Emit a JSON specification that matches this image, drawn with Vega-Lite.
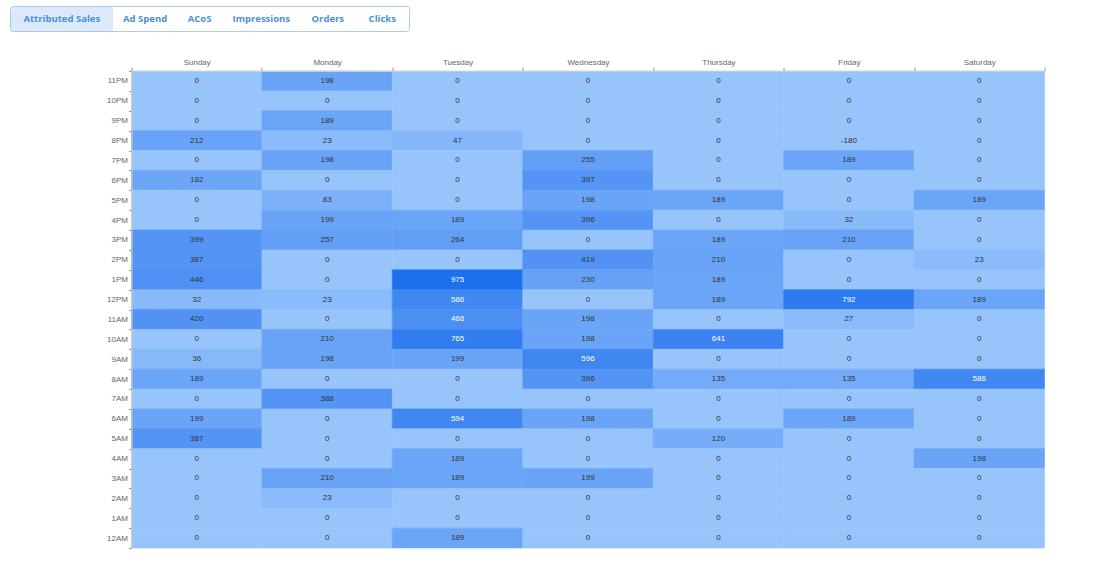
{
  "$schema": "https://vega.github.io/schema/vega-lite/v6.json",
  "padding": {"left": 9.5, "top": 5.5, "right": 0, "bottom": 0},
  "background": "white",
  "spacing": 25.5,
  "config": {"view": {"stroke": null}, "font": "Liberation Sans"},
  "datasets": {
    "tabs": [
      {"tab": "Attributed Sales", "active": true},
      {"tab": "Ad Spend", "active": false},
      {"tab": "ACoS", "active": false},
      {"tab": "Impressions", "active": false},
      {"tab": "Orders", "active": false},
      {"tab": "Clicks", "active": false}
    ],
    "sales": [
      {"day": "Sunday", "hour": "11PM", "sales": 0},
      {"day": "Sunday", "hour": "10PM", "sales": 0},
      {"day": "Sunday", "hour": "9PM", "sales": 0},
      {"day": "Sunday", "hour": "8PM", "sales": 212},
      {"day": "Sunday", "hour": "7PM", "sales": 0},
      {"day": "Sunday", "hour": "6PM", "sales": 182},
      {"day": "Sunday", "hour": "5PM", "sales": 0},
      {"day": "Sunday", "hour": "4PM", "sales": 0},
      {"day": "Sunday", "hour": "3PM", "sales": 399},
      {"day": "Sunday", "hour": "2PM", "sales": 387},
      {"day": "Sunday", "hour": "1PM", "sales": 446},
      {"day": "Sunday", "hour": "12PM", "sales": 32},
      {"day": "Sunday", "hour": "11AM", "sales": 420},
      {"day": "Sunday", "hour": "10AM", "sales": 0},
      {"day": "Sunday", "hour": "9AM", "sales": 36},
      {"day": "Sunday", "hour": "8AM", "sales": 189},
      {"day": "Sunday", "hour": "7AM", "sales": 0},
      {"day": "Sunday", "hour": "6AM", "sales": 199},
      {"day": "Sunday", "hour": "5AM", "sales": 387},
      {"day": "Sunday", "hour": "4AM", "sales": 0},
      {"day": "Sunday", "hour": "3AM", "sales": 0},
      {"day": "Sunday", "hour": "2AM", "sales": 0},
      {"day": "Sunday", "hour": "1AM", "sales": 0},
      {"day": "Sunday", "hour": "12AM", "sales": 0},
      {"day": "Monday", "hour": "11PM", "sales": 198},
      {"day": "Monday", "hour": "10PM", "sales": 0},
      {"day": "Monday", "hour": "9PM", "sales": 189},
      {"day": "Monday", "hour": "8PM", "sales": 23},
      {"day": "Monday", "hour": "7PM", "sales": 198},
      {"day": "Monday", "hour": "6PM", "sales": 0},
      {"day": "Monday", "hour": "5PM", "sales": 83},
      {"day": "Monday", "hour": "4PM", "sales": 199},
      {"day": "Monday", "hour": "3PM", "sales": 257},
      {"day": "Monday", "hour": "2PM", "sales": 0},
      {"day": "Monday", "hour": "1PM", "sales": 0},
      {"day": "Monday", "hour": "12PM", "sales": 23},
      {"day": "Monday", "hour": "11AM", "sales": 0},
      {"day": "Monday", "hour": "10AM", "sales": 210},
      {"day": "Monday", "hour": "9AM", "sales": 198},
      {"day": "Monday", "hour": "8AM", "sales": 0},
      {"day": "Monday", "hour": "7AM", "sales": 388},
      {"day": "Monday", "hour": "6AM", "sales": 0},
      {"day": "Monday", "hour": "5AM", "sales": 0},
      {"day": "Monday", "hour": "4AM", "sales": 0},
      {"day": "Monday", "hour": "3AM", "sales": 210},
      {"day": "Monday", "hour": "2AM", "sales": 23},
      {"day": "Monday", "hour": "1AM", "sales": 0},
      {"day": "Monday", "hour": "12AM", "sales": 0},
      {"day": "Tuesday", "hour": "11PM", "sales": 0},
      {"day": "Tuesday", "hour": "10PM", "sales": 0},
      {"day": "Tuesday", "hour": "9PM", "sales": 0},
      {"day": "Tuesday", "hour": "8PM", "sales": 47},
      {"day": "Tuesday", "hour": "7PM", "sales": 0},
      {"day": "Tuesday", "hour": "6PM", "sales": 0},
      {"day": "Tuesday", "hour": "5PM", "sales": 0},
      {"day": "Tuesday", "hour": "4PM", "sales": 189},
      {"day": "Tuesday", "hour": "3PM", "sales": 264},
      {"day": "Tuesday", "hour": "2PM", "sales": 0},
      {"day": "Tuesday", "hour": "1PM", "sales": 975},
      {"day": "Tuesday", "hour": "12PM", "sales": 586},
      {"day": "Tuesday", "hour": "11AM", "sales": 468},
      {"day": "Tuesday", "hour": "10AM", "sales": 765},
      {"day": "Tuesday", "hour": "9AM", "sales": 199},
      {"day": "Tuesday", "hour": "8AM", "sales": 0},
      {"day": "Tuesday", "hour": "7AM", "sales": 0},
      {"day": "Tuesday", "hour": "6AM", "sales": 594},
      {"day": "Tuesday", "hour": "5AM", "sales": 0},
      {"day": "Tuesday", "hour": "4AM", "sales": 189},
      {"day": "Tuesday", "hour": "3AM", "sales": 189},
      {"day": "Tuesday", "hour": "2AM", "sales": 0},
      {"day": "Tuesday", "hour": "1AM", "sales": 0},
      {"day": "Tuesday", "hour": "12AM", "sales": 189},
      {"day": "Wednesday", "hour": "11PM", "sales": 0},
      {"day": "Wednesday", "hour": "10PM", "sales": 0},
      {"day": "Wednesday", "hour": "9PM", "sales": 0},
      {"day": "Wednesday", "hour": "8PM", "sales": 0},
      {"day": "Wednesday", "hour": "7PM", "sales": 255},
      {"day": "Wednesday", "hour": "6PM", "sales": 397},
      {"day": "Wednesday", "hour": "5PM", "sales": 198},
      {"day": "Wednesday", "hour": "4PM", "sales": 396},
      {"day": "Wednesday", "hour": "3PM", "sales": 0},
      {"day": "Wednesday", "hour": "2PM", "sales": 419},
      {"day": "Wednesday", "hour": "1PM", "sales": 230},
      {"day": "Wednesday", "hour": "12PM", "sales": 0},
      {"day": "Wednesday", "hour": "11AM", "sales": 198},
      {"day": "Wednesday", "hour": "10AM", "sales": 198},
      {"day": "Wednesday", "hour": "9AM", "sales": 596},
      {"day": "Wednesday", "hour": "8AM", "sales": 396},
      {"day": "Wednesday", "hour": "7AM", "sales": 0},
      {"day": "Wednesday", "hour": "6AM", "sales": 198},
      {"day": "Wednesday", "hour": "5AM", "sales": 0},
      {"day": "Wednesday", "hour": "4AM", "sales": 0},
      {"day": "Wednesday", "hour": "3AM", "sales": 199},
      {"day": "Wednesday", "hour": "2AM", "sales": 0},
      {"day": "Wednesday", "hour": "1AM", "sales": 0},
      {"day": "Wednesday", "hour": "12AM", "sales": 0},
      {"day": "Thursday", "hour": "11PM", "sales": 0},
      {"day": "Thursday", "hour": "10PM", "sales": 0},
      {"day": "Thursday", "hour": "9PM", "sales": 0},
      {"day": "Thursday", "hour": "8PM", "sales": 0},
      {"day": "Thursday", "hour": "7PM", "sales": 0},
      {"day": "Thursday", "hour": "6PM", "sales": 0},
      {"day": "Thursday", "hour": "5PM", "sales": 189},
      {"day": "Thursday", "hour": "4PM", "sales": 0},
      {"day": "Thursday", "hour": "3PM", "sales": 189},
      {"day": "Thursday", "hour": "2PM", "sales": 210},
      {"day": "Thursday", "hour": "1PM", "sales": 189},
      {"day": "Thursday", "hour": "12PM", "sales": 189},
      {"day": "Thursday", "hour": "11AM", "sales": 0},
      {"day": "Thursday", "hour": "10AM", "sales": 641},
      {"day": "Thursday", "hour": "9AM", "sales": 0},
      {"day": "Thursday", "hour": "8AM", "sales": 135},
      {"day": "Thursday", "hour": "7AM", "sales": 0},
      {"day": "Thursday", "hour": "6AM", "sales": 0},
      {"day": "Thursday", "hour": "5AM", "sales": 120},
      {"day": "Thursday", "hour": "4AM", "sales": 0},
      {"day": "Thursday", "hour": "3AM", "sales": 0},
      {"day": "Thursday", "hour": "2AM", "sales": 0},
      {"day": "Thursday", "hour": "1AM", "sales": 0},
      {"day": "Thursday", "hour": "12AM", "sales": 0},
      {"day": "Friday", "hour": "11PM", "sales": 0},
      {"day": "Friday", "hour": "10PM", "sales": 0},
      {"day": "Friday", "hour": "9PM", "sales": 0},
      {"day": "Friday", "hour": "8PM", "sales": -180},
      {"day": "Friday", "hour": "7PM", "sales": 189},
      {"day": "Friday", "hour": "6PM", "sales": 0},
      {"day": "Friday", "hour": "5PM", "sales": 0},
      {"day": "Friday", "hour": "4PM", "sales": 32},
      {"day": "Friday", "hour": "3PM", "sales": 210},
      {"day": "Friday", "hour": "2PM", "sales": 0},
      {"day": "Friday", "hour": "1PM", "sales": 0},
      {"day": "Friday", "hour": "12PM", "sales": 792},
      {"day": "Friday", "hour": "11AM", "sales": 27},
      {"day": "Friday", "hour": "10AM", "sales": 0},
      {"day": "Friday", "hour": "9AM", "sales": 0},
      {"day": "Friday", "hour": "8AM", "sales": 135},
      {"day": "Friday", "hour": "7AM", "sales": 0},
      {"day": "Friday", "hour": "6AM", "sales": 189},
      {"day": "Friday", "hour": "5AM", "sales": 0},
      {"day": "Friday", "hour": "4AM", "sales": 0},
      {"day": "Friday", "hour": "3AM", "sales": 0},
      {"day": "Friday", "hour": "2AM", "sales": 0},
      {"day": "Friday", "hour": "1AM", "sales": 0},
      {"day": "Friday", "hour": "12AM", "sales": 0},
      {"day": "Saturday", "hour": "11PM", "sales": 0},
      {"day": "Saturday", "hour": "10PM", "sales": 0},
      {"day": "Saturday", "hour": "9PM", "sales": 0},
      {"day": "Saturday", "hour": "8PM", "sales": 0},
      {"day": "Saturday", "hour": "7PM", "sales": 0},
      {"day": "Saturday", "hour": "6PM", "sales": 0},
      {"day": "Saturday", "hour": "5PM", "sales": 189},
      {"day": "Saturday", "hour": "4PM", "sales": 0},
      {"day": "Saturday", "hour": "3PM", "sales": 0},
      {"day": "Saturday", "hour": "2PM", "sales": 23},
      {"day": "Saturday", "hour": "1PM", "sales": 0},
      {"day": "Saturday", "hour": "12PM", "sales": 189},
      {"day": "Saturday", "hour": "11AM", "sales": 0},
      {"day": "Saturday", "hour": "10AM", "sales": 0},
      {"day": "Saturday", "hour": "9AM", "sales": 0},
      {"day": "Saturday", "hour": "8AM", "sales": 586},
      {"day": "Saturday", "hour": "7AM", "sales": 0},
      {"day": "Saturday", "hour": "6AM", "sales": 0},
      {"day": "Saturday", "hour": "5AM", "sales": 0},
      {"day": "Saturday", "hour": "4AM", "sales": 198},
      {"day": "Saturday", "hour": "3AM", "sales": 0},
      {"day": "Saturday", "hour": "2AM", "sales": 0},
      {"day": "Saturday", "hour": "1AM", "sales": 0},
      {"day": "Saturday", "hour": "12AM", "sales": 0}
    ]
  },
  "vconcat": [
    {
      "width": 278,
      "height": 25,
      "data": {"name": "tabs"},
      "transform": [
        {"calculate": "length(datum.tab) * 4.5 + 24", "as": "w"},
        {"window": [{"op": "sum", "field": "w", "as": "tabEnd"}], "frame": [null, 0]},
        {"calculate": "datum.tabEnd - datum.w", "as": "tabStart"},
        {"calculate": "datum.tabEnd - datum.w / 2", "as": "tabMid"}
      ],
      "layer": [
        {
          "mark": {"type": "rect", "cornerRadius": 2},
          "encoding": {
            "x": {"field": "tabStart", "type": "quantitative", "axis": null,
                  "scale": {"zero": true, "nice": false, "range": [-121, 278]}},
            "x2": {"field": "tabEnd"},
            "fill": {"condition": {"test": "datum.active", "value": "#dbe9f8"}, "value": "#ffffff"}
          }
        },
        {
          "mark": {"type": "text", "font": "Open Sans", "fontWeight": "bold", "fontSize": 9.5, "color": "#4a90d9"},
          "encoding": {
            "x": {"field": "tabMid", "type": "quantitative", "axis": null},
            "text": {"field": "tab"}
          }
        },
        {
          "transform": [
            {"aggregate": [{"op": "min", "field": "tabStart", "as": "boxStart"},
                           {"op": "max", "field": "tabEnd", "as": "boxEnd"}]}
          ],
          "mark": {"type": "rect", "fill": null, "fillOpacity": 0, "stroke": "#a9cce9", "strokeWidth": 1, "cornerRadius": 3},
          "encoding": {
            "x": {"field": "boxStart", "type": "quantitative", "axis": null},
            "x2": {"field": "boxEnd"}
          }
        }
      ]
    },
    {
      "width": 913,
      "height": 477,
      "data": {"name": "sales"},
      "encoding": {
        "x": {
          "field": "day", "type": "nominal",
          "sort": ["Sunday", "Monday", "Tuesday", "Wednesday", "Thursday", "Friday", "Saturday"],
          "scale": {"paddingInner": 0, "paddingOuter": 0},
          "axis": {"orient": "top", "title": null, "labelAngle": 0, "tickBand": "extent", "grid": false,
                   "labelFontSize": 8, "labelColor": "#666666", "labelPadding": 1,
                   "tickSize": 4, "tickColor": "#999999", "domainColor": "#cccccc"}
        },
        "y": {
          "field": "hour", "type": "nominal",
          "sort": ["11PM", "10PM", "9PM", "8PM", "7PM", "6PM", "5PM", "4PM", "3PM", "2PM", "1PM", "12PM",
                   "11AM", "10AM", "9AM", "8AM", "7AM", "6AM", "5AM", "4AM", "3AM", "2AM", "1AM", "12AM"],
          "scale": {"paddingInner": 0, "paddingOuter": 0},
          "axis": {"title": null, "tickBand": "extent", "grid": false, "labelFontSize": 8, "labelColor": "#666666",
                   "labelPadding": 1, "tickSize": 3, "tickColor": "#999999", "domainColor": "#cccccc",
                   "minExtent": 121}
        }
      },
      "layer": [
        {
          "mark": {"type": "rect", "strokeWidth": 0.6},
          "encoding": {
            "fill": {"field": "sales", "type": "quantitative", "legend": null,
                     "scale": {"type": "pow", "exponent": 0.6, "domain": [0, 975],
                               "range": ["#97c4fb", "#1c70ec"], "clamp": true}},
            "stroke": {"field": "sales", "type": "quantitative", "legend": null,
                       "scale": {"type": "pow", "exponent": 0.6, "domain": [0, 975],
                                 "range": ["#97c4fb", "#1c70ec"], "clamp": true}}
          }
        },
        {
          "mark": {"type": "text", "fontSize": 8},
          "encoding": {
            "text": {"field": "sales", "type": "nominal"},
            "color": {"condition": {"test": "datum.sales >= 460", "value": "#ffffff"}, "value": "#333333"}
          }
        }
      ]
    }
  ]
}
